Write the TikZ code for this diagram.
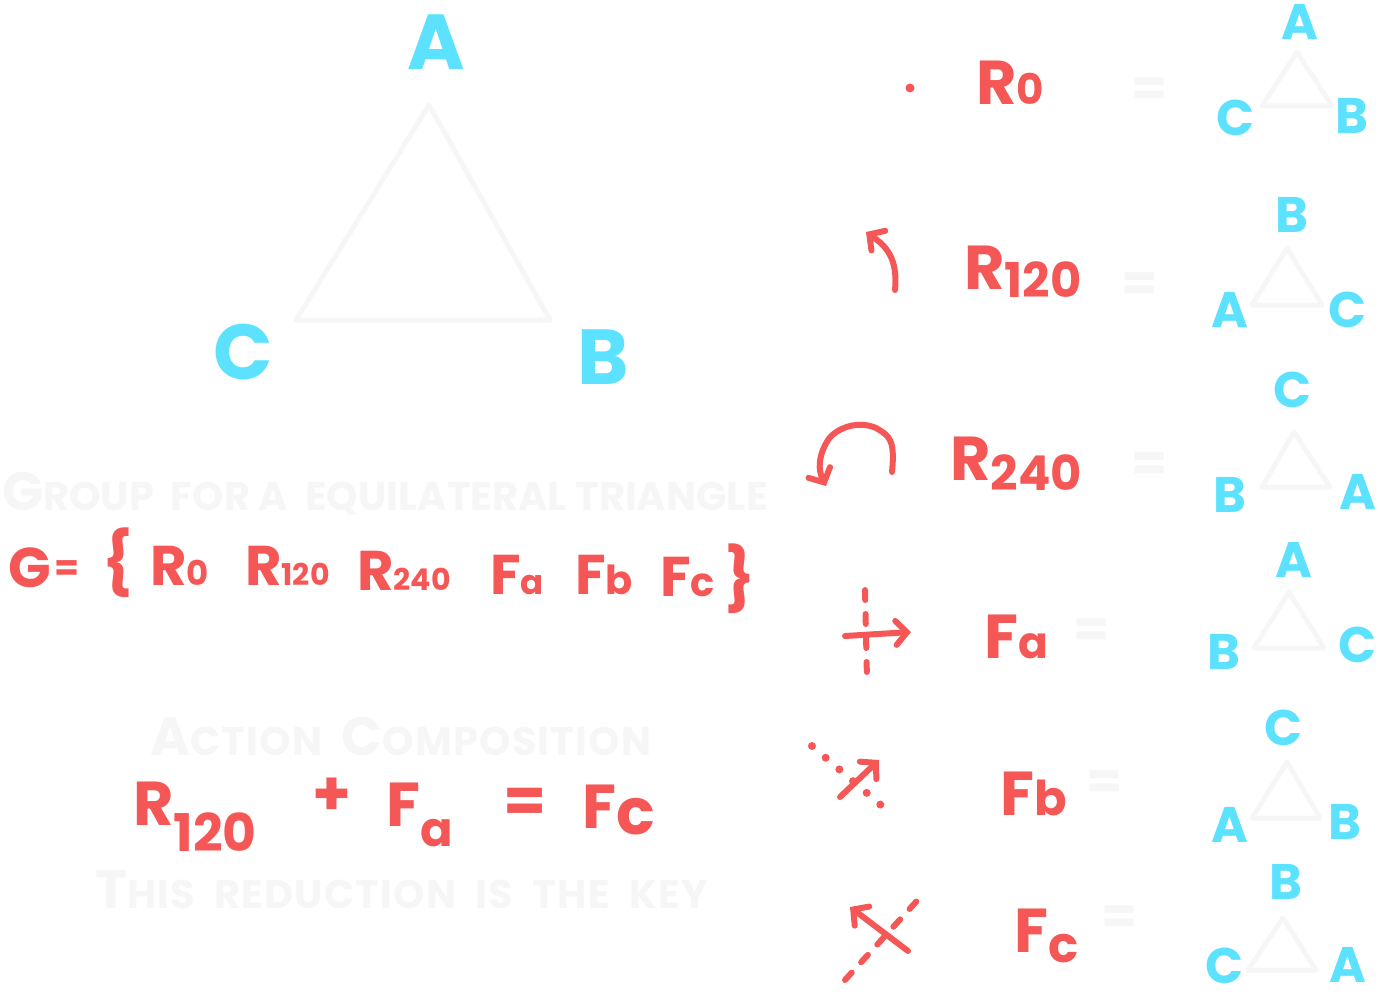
\documentclass[tikz,border=0pt]{standalone}
\usepackage{fontspec}
\setmainfont{Poppins}
\usetikzlibrary{
  arrows.meta
}
\definecolor{inkRed}{HTML}{F55656}
\definecolor{inkCyan}{HTML}{5CE1FF}
\definecolor{ghostGray}{HTML}{F6F6F6}
\newcommand{\subidx}[3]{\raisebox{#1}{\fontsize{#2}{#2}\selectfont #3}}
\newcommand{\ghostcap}[1]{{\fontsize{54}{54}\selectfont #1}}
\tikzset{
  redText/.style={
    text=inkRed, inner sep=0pt, anchor=base west,
    font=\bfseries\fontsize{62}{62}\selectfont
  },
  redSmall/.style={
    redText, font=\bfseries\fontsize{56}{56}\selectfont
  },
  cyanBig/.style={
    text=inkCyan, inner sep=0pt, font=\bfseries\fontsize{78}{78}\selectfont
  },
  cyanSmall/.style={
    text=inkCyan, inner sep=0pt, font=\bfseries\fontsize{50}{50}\selectfont
  },
  ghostText/.style={
    text=ghostGray, inner sep=0pt, anchor=base west,
    font=\bfseries\fontsize{40}{40}\selectfont
  },
  ghostEq/.style={
    text=ghostGray, inner sep=0pt, font=\bfseries\fontsize{52}{52}\selectfont
  },
  ghostLine/.style={
    draw=ghostGray, line width=5pt, line join=round, line cap=round
  },
  redStroke/.style={
    draw=inkRed, line width=6pt, line cap=round, line join=round
  },
  redArrow/.style={
    redStroke, -{Straight Barb[length=11pt,width=24pt,line cap=round]}
  },
  redDash/.style={
    redStroke, dash pattern=on 10pt off 14pt
  },
  redDot/.style={
    redStroke, line width=8pt, dash pattern=on 0pt off 18pt
  }
}

\begin{document}
\begin{tikzpicture}[x=1pt, y=-1pt]
\useasboundingbox (0,0) rectangle (1378,1000);

% ── BIG TRIANGLE ───────────────────────────────────────────────────
\coordinate (bigTop)   at (429,105);
\coordinate (bigRight) at (550,320);
\coordinate (bigLeft)  at (296,320);
\draw[ghostLine] (bigTop) -- (bigRight) -- (bigLeft) -- cycle;
\node[cyanBig] (bigA) at (436,42)  {A};
\node[cyanBig] (bigC) at (243,352) {C};
\node[cyanBig] (bigB) at (603,357) {B};

% ── GROUP ──────────────────────────────────────────────────────────
\node[ghostText] (groupTitle) at (2,510)
  {\ghostcap{G}ROUP\ \ FOR\ A\ \ EQUILATERAL TRIANGLE};
\node[redText, font=\bfseries\fontsize{56}{56}\selectfont] (gG)
  at (8,587) {G};
\node[redText, font=\bfseries\fontsize{36}{36}\selectfont] (gEq)
  at (54,580) {=};
\node[redText] (gOpen)  at (102,584) {\{};
\node[redSmall] (gR0)   at (150,585) {R\subidx{0pt}{34}{0}};
\node[redSmall] (gR120) at (245,585) {R\subidx{0pt}{30}{120}};
\node[redSmall] (gR240) at (357,590) {R\subidx{0pt}{30}{240}};
\node[redSmall] (gFa)   at (490,594) {F\subidx{0pt}{34}{a}};
\node[redSmall] (gFb)   at (575,594) {F\subidx{0pt}{40}{b}};
\node[redSmall] (gFc)   at (660,596) {F\subidx{0pt}{40}{c}};
\node[redText] (gClose) at (724,600) {\}};

% ── COMPOSITION ────────────────────────────────────────────────────
\node[ghostText] (actionTitle) at (150,755)
  {\addfontfeatures{LetterSpace=3}\ghostcap{A}CTION\ \ \ghostcap{C}OMPOSITION};
\node[redText] (cR120) at (133,825) {R\subidx{-26pt}{52}{120}};
\node[redText] (cPlus) at (312,815) {+};
\node[redText] (cFa)   at (386,826) {F\subidx{-20pt}{48}{a}};
\node[redText] (cEq)   at (503,822) {=};
\node[redText] (cFc)   at (582,828) {F\subidx{-6pt}{64}{c}};
\node[ghostText] (keyNote) at (95,908)
  {\addfontfeatures{LetterSpace=3}\ghostcap{T}HIS\ \ REDUCTION\ \ IS\ \ THE\ \ KEY};

% ── ROW 1: R0 ──────────────────────────────────────────────────────
\fill[inkRed] (910,88) circle (4.5pt);
\node[redText] (rR0) at (976,105) {R\subidx{0pt}{42}{0}};
\node[ghostEq] (eq0) at (1150,92) {=};
\draw[ghostLine] (1297,52) -- (1332,106) -- (1262,106) -- cycle;
\node[cyanSmall] (t0a) at (1300,22)  {A};
\node[cyanSmall] (t0c) at (1236,118) {C};
\node[cyanSmall] (t0b) at (1352,116) {B};

% ── ROW 2: R120 ────────────────────────────────────────────────────
\draw[redArrow] (895,290) .. controls (898,258) and (886,246) .. (866,232);
\node[redText] (rR120) at (964,290) {R\subidx{-8pt}{48}{120}};
\node[ghostEq] (eq1) at (1140,287) {=};
\draw[ghostLine] (1287,248) -- (1322,305) -- (1252,305) -- cycle;
\node[cyanSmall] (t1b) at (1292,215) {B};
\node[cyanSmall] (t1a) at (1230,310) {A};
\node[cyanSmall] (t1c) at (1348,310) {C};

% ── ROW 3: R240 ────────────────────────────────────────────────────
\draw[redArrow] (892,472) .. controls (895,440) and (890,436) .. (876,428)
  .. controls (858,420) and (836,428) .. (828,440)
  .. controls (818,456) and (818,470) .. (826,486);
\node[redText] (rR240) at (950,480) {R\subidx{-10pt}{48}{240}};
\node[ghostEq] (eq2) at (1150,467) {=};
\draw[ghostLine] (1294,432) -- (1330,487) -- (1262,487) -- cycle;
\node[cyanSmall] (t2c) at (1293,390) {C};
\node[cyanSmall] (t2b) at (1230,495) {B};
\node[cyanSmall] (t2a) at (1358,492) {A};

% ── ROW 4: Fa ──────────────────────────────────────────────────────
\draw[redDash] (865,590) -- (867,680);
\draw[redArrow] (845,636) -- (911,632);
\node[redText] (rFa) at (984,658) {F\subidx{0pt}{44}{a}};
\node[ghostEq] (eq3) at (1092,633) {=};
\draw[ghostLine] (1289,592) -- (1324,648) -- (1254,648) -- cycle;
\node[cyanSmall] (t3a) at (1294,560) {A};
\node[cyanSmall] (t3b) at (1224,652) {B};
\node[cyanSmall] (t3c) at (1358,645) {C};

% ── ROW 5: Fb ──────────────────────────────────────────────────────
\draw[redDot] (812,746) -- (882,806);
\draw[redArrow] (840,797) -- (879,760);
\node[redText] (rFb) at (1000,815) {F\subidx{0pt}{48}{b}};
\node[ghostEq] (eq4) at (1105,785) {=};
\draw[ghostLine] (1287,762) -- (1320,818) -- (1252,818) -- cycle;
\node[cyanSmall] (t4c) at (1284,728) {C};
\node[cyanSmall] (t4a) at (1230,825) {A};
\node[cyanSmall] (t4b) at (1345,822) {B};

% ── ROW 6: Fc ──────────────────────────────────────────────────────
\draw[redDash] (845,980) -- (925,892);
\draw[redArrow] (908,951) -- (850,907);
\node[redText] (rFc) at (1014,952) {F\subidx{-10pt}{50}{c}};
\node[ghostEq] (eq5) at (1120,920) {=};
\draw[ghostLine] (1283,918) -- (1316,970) -- (1248,970) -- cycle;
\node[cyanSmall] (t5b) at (1286,882) {B};
\node[cyanSmall] (t5c) at (1225,966) {C};
\node[cyanSmall] (t5a) at (1348,965) {A};

\end{tikzpicture}
\end{document}
